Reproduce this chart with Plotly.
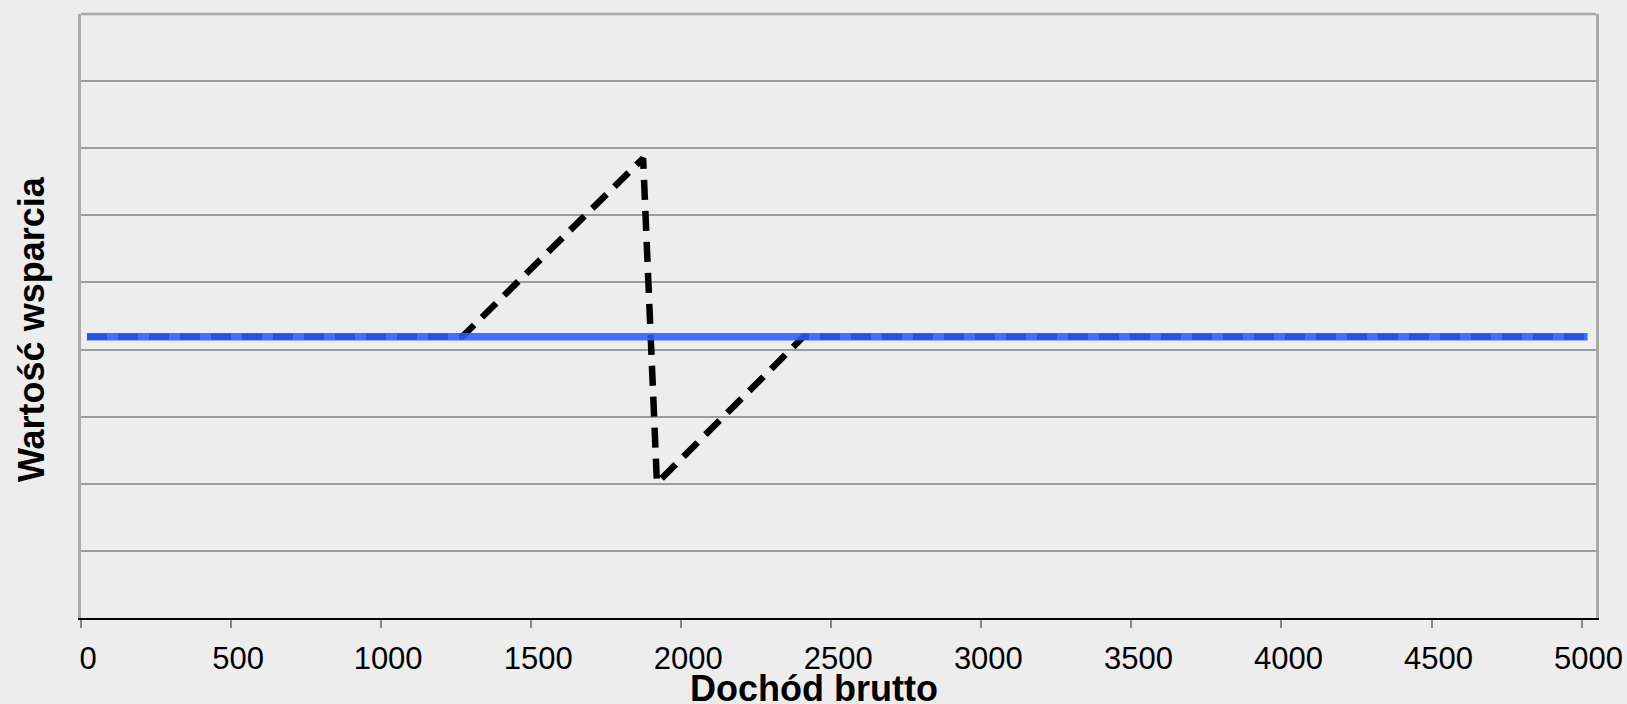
import plotly.graph_objects as go

# ---- data ----
income_flat = [20, 5020]
support_flat = [419, 419]

income_dashed = [20, 1270, 1873, 1919, 2407, 5020]
support_dashed = [419, 419, 685, 201, 419, 419]

x_ticks = [0, 500, 1000, 1500, 2000, 2500, 3000, 3500, 4000, 4500, 5000]
x_tick_labels = [str(v) for v in x_ticks]

x_title = "Dochód brutto"
y_title = "Wartość wsparcia"

FONT = "Liberation Sans, Arial, Helvetica, sans-serif"
BG = "#EDEDED"

fig = go.Figure()

fig.add_trace(go.Scatter(
    x=income_dashed, y=support_dashed, mode="lines",
    line=dict(color="black", width=6.5, dash="20px,11px"),
    hoverinfo="skip", showlegend=False,
))
fig.add_trace(go.Scatter(
    x=income_flat, y=support_flat, mode="lines",
    line=dict(color="rgba(40,95,255,0.88)", width=7.5),
    hoverinfo="skip", showlegend=False,
))

fig.update_layout(
    width=1627, height=704,
    margin=dict(l=81, r=31, t=14, b=86, autoexpand=False),
    paper_bgcolor=BG, plot_bgcolor=BG,
    font=dict(family=FONT, color="black"),
    showlegend=False,
    xaxis=dict(
        range=[0, 5048], tickvals=x_ticks, ticktext=x_tick_labels,
        ticks="outside", ticklen=8, tickwidth=1.5, tickcolor="#888888",
        tickfont=dict(size=31, family=FONT, color="black"),
        ticklabelshift=7, ticklabelstandoff=4, automargin=False,
        showline=True, linecolor="black", linewidth=2,
        showgrid=False, zeroline=False,
    ),
    yaxis=dict(
        range=[0, 900], tick0=0, dtick=100, automargin=False,
        showticklabels=False, ticks="",
        showgrid=True, gridcolor="#9C9C9C", gridwidth=2,
        showline=True, mirror=True, linecolor="#AAAAAA", linewidth=2.5,
        zeroline=False,
    ),
    shapes=[
        dict(type="line", xref="paper", yref="paper", x0=0, x1=1, y0=1, y1=1,
             line=dict(color="#A8A8A8", width=2.5), layer="above"),
    ],
    annotations=[
        dict(text="<b>" + x_title + "</b>", xref="paper", yref="paper",
             x=0.4838, y=-0.080, xanchor="center", yanchor="top",
             showarrow=False, font=dict(size=36, family=FONT, color="black")),
        dict(text="<b>" + y_title + "</b>", xref="paper", yref="paper",
             x=-0.0323, y=0.4785, xanchor="center", yanchor="middle",
             textangle=-90, showarrow=False,
             font=dict(size=36, family=FONT, color="black")),
    ],
)

fig.write_html(
    "out.html",
    config={"displayModeBar": False},
    post_script="document.body.style.margin='0px';document.body.style.overflow='hidden';",
)
